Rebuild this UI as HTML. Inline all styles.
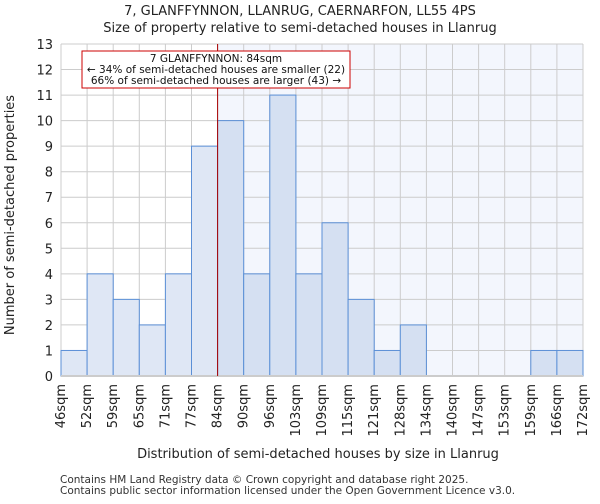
<!DOCTYPE html>
<html><head><meta charset="utf-8"><style>
body{margin:0;background:#fff;font-family:"DejaVu Sans","Liberation Sans",sans-serif}
</style></head><body>
<svg width="600" height="500" xmlns="http://www.w3.org/2000/svg" font-family="DejaVu Sans, Liberation Sans, sans-serif">
<g id="g"></g>
</svg>
<script>
const categories=["46sqm","52sqm","59sqm","65sqm","71sqm","77sqm","84sqm","90sqm","96sqm","103sqm","109sqm","115sqm","121sqm","128sqm","134sqm","140sqm","147sqm","153sqm","159sqm","166sqm","172sqm"];
const counts=[1,4,3,2,4,9,10,4,11,4,6,3,1,2,0,0,0,0,1,1];
const yTicks=[0,1,2,3,4,5,6,7,8,9,10,11,12,13];
const markerIndex=6;
const L=61,R=583,T=44,B=376,YMAX=13;
const bw=(R-L)/counts.length;
const xs=i=>L+i*bw, ys=v=>B-v/YMAX*(B-T);
const NS="http://www.w3.org/2000/svg",g=document.getElementById('g');
function el(t,a,txt){const e=document.createElementNS(NS,t);for(const k in a)e.setAttribute(k,a[k]);if(txt!=null)e.textContent=txt;g.appendChild(e);return e;}
let e;
e=el('rect',{x:xs(markerIndex),y:T,width:R-xs(markerIndex),height:B-T,fill:'#f3f6fd'});


yTicks.forEach(v=>{e=el('line',{x1:L,x2:R,y1:ys(v),y2:ys(v),stroke:'#cccccc'});


e=el('text',{x:L-8,y:ys(v)+5,'text-anchor':'end','font-size':13,fill:'#222'},v);

});
categories.forEach((c,i)=>{e=el('line',{x1:xs(i),x2:xs(i),y1:T,y2:B,stroke:'#cccccc'});


const x=xs(i)+4;e=el('text',{x:x,y:B+8,'text-anchor':'end','font-size':13,fill:'#222',transform:`rotate(-90 ${x} ${B+8})`},c);

});
counts.forEach((v,i)=>{if(!v)return;e=el('rect',{x:xs(i),y:ys(v),width:bw,height:B-ys(v),fill:i<markerIndex?'#dfe7f5':'#d5e0f2',stroke:'#5b8fd6','stroke-width':1});

});
e=el('line',{x1:L,x2:R,y1:B,y2:B,stroke:'#ccc','stroke-width':2});


e=el('line',{x1:xs(markerIndex),x2:xs(markerIndex),y1:T,y2:B,stroke:'#aa0000','stroke-width':1});


e=el('rect',{x:82,y:51,width:268,height:37,fill:'#fff',stroke:'#cc0000','stroke-width':1});


[["7 GLANFFYNNON: 84sqm",62],["\u2190 34% of semi-detached houses are smaller (22)",73],["66% of semi-detached houses are larger (43) \u2192",84]].forEach(a=>{
e=el('text',{x:216,y:a[1]-0,'text-anchor':'middle','font-size':10.5,fill:'#111'},a[0]);

});
e=el('text',{x:300,y:15,'text-anchor':'middle','font-size':13,fill:'#222'},"7, GLANFFYNNON, LLANRUG, CAERNARFON, LL55 4PS");


e=el('text',{x:300,y:32,'text-anchor':'middle','font-size':13,fill:'#222'},"Size of property relative to semi-detached houses in Llanrug");


e=el('text',{x:14,y:215,'text-anchor':'middle','font-size':13,fill:'#222',transform:'rotate(-90 14 215)'},"Number of semi-detached properties");


e=el('text',{x:318,y:458,'text-anchor':'middle','font-size':13,fill:'#222'},"Distribution of semi-detached houses by size in Llanrug");


e=el('text',{x:60,y:483,'font-size':10.5,fill:'#333'},"Contains HM Land Registry data \u00a9 Crown copyright and database right 2025.");


e=el('text',{x:60,y:494,'font-size':10.5,fill:'#333'},"Contains public sector information licensed under the Open Government Licence v3.0.");


</script>
</body></html>
